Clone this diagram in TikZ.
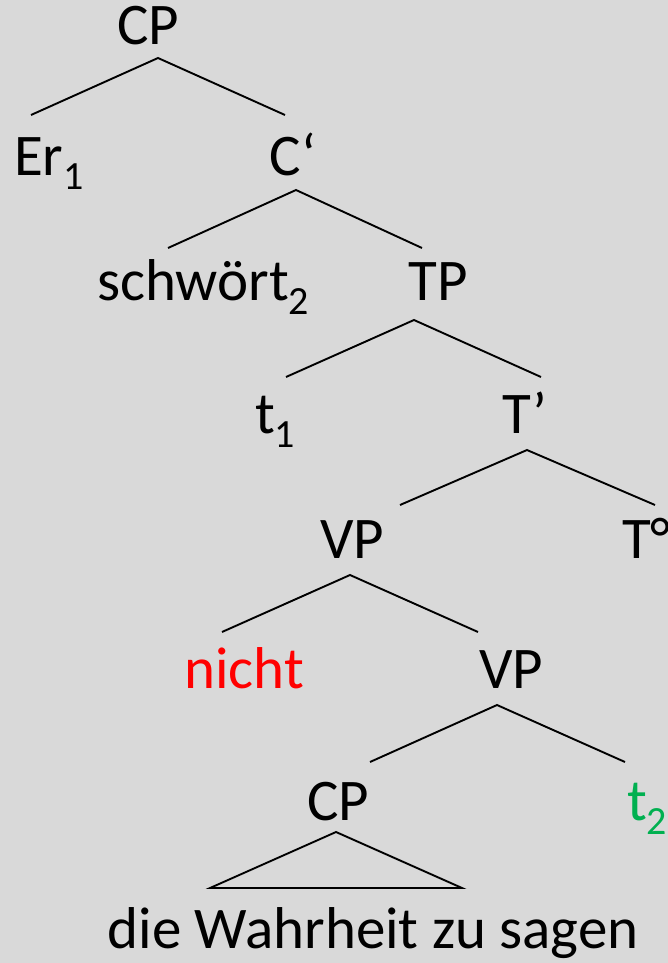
\documentclass[tikz,border=0pt]{standalone}
\usepackage{fontspec}
\setmainfont{Carlito}
\definecolor{bg}{HTML}{D9D9D9}
\definecolor{redw}{HTML}{FF0000}
\definecolor{greenw}{HTML}{00B050}
\newcommand{\sbs}[1]{\raisebox{-14pt}{\fontsize{40}{40}\selectfont #1}}
\begin{document}
\begin{tikzpicture}[x=1pt,y=-1pt,
  lbl/.style={inner sep=0pt, anchor=base, font=\fontsize{59}{70}\selectfont},
  lblw/.style={lbl, anchor=base west},
  edge/.style={line width=1.9pt, line join=miter}]
\useasboundingbox (0,0) rectangle (668,963);
\fill[bg] (0,0) rectangle (668,963);
% labels
\node[lbl]  (cp1)   at (148,45)  {CP};
\node[lblw] (er)    at (14,175)  {Er\sbs{1}};
\node[lbl]  (cbar)  at (293,175) {C‘};
\node[lblw] (schw)  at (97,300)  {schwört\sbs{2}};
\node[lbl]  (tp)    at (438,300) {TP};
\node[lblw] (t1)    at (255,433) {t\sbs{1}};
\node[lbl]  (tbar)  at (525,433) {T’};
\node[lbl]  (vp1)   at (352,558) {VP};
\node[lblw] (tdeg)  at (622,558) {T°};
\node[lbl,text=redw] (nicht) at (244,688) {nicht};
\node[lbl]  (vp2)   at (511,688) {VP};
\node[lbl]  (cp2)   at (338,820) {CP};
\node[lblw,text=greenw] (t2) at (627,820) {t\sbs{2}};
\node[lbl]  (die)   at (373,948) {die Wahrheit zu sagen};
% branch points
\coordinate (cp1A) at (158,58);  \coordinate (cp1L) at (31,115);  \coordinate (cp1R) at (285,115);
\coordinate (cbA) at (296,190);  \coordinate (cbL) at (168,248);  \coordinate (cbR) at (422,248);
\coordinate (tpA) at (414,320);  \coordinate (tpL) at (286,377);  \coordinate (tpR) at (541,377);
\coordinate (tbA) at (527,450);  \coordinate (tbL) at (400,505);  \coordinate (tbR) at (655,505);
\coordinate (vp1A) at (350,575); \coordinate (vp1L) at (222,632); \coordinate (vp1R) at (478,632);
\coordinate (vp2A) at (497,705); \coordinate (vp2L) at (370,762); \coordinate (vp2R) at (625,762);
\coordinate (cp2A) at (336,832); \coordinate (cp2L) at (210,888); \coordinate (cp2R) at (462,888);
% edges
\draw[edge] (cp1L) -- (cp1A) -- (cp1R);
\draw[edge] (cbL) -- (cbA) -- (cbR);
\draw[edge] (tpL) -- (tpA) -- (tpR);
\draw[edge] (tbL) -- (tbA) -- (tbR);
\draw[edge] (vp1L) -- (vp1A) -- (vp1R);
\draw[edge] (vp2L) -- (vp2A) -- (vp2R);
\draw[edge] (cp2A) -- (cp2L) -- (cp2R) -- cycle;
\end{tikzpicture}
\end{document}
